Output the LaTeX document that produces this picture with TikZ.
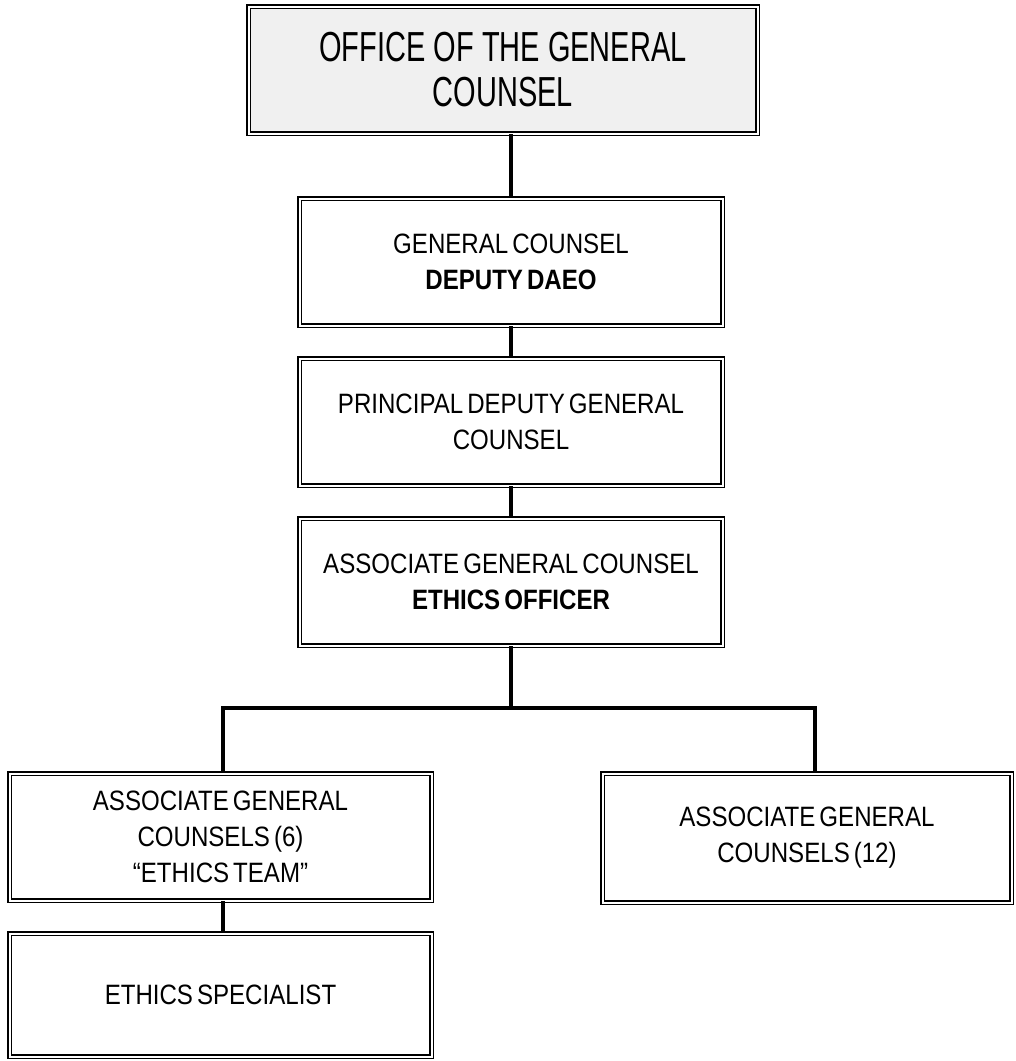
\documentclass[tikz,border=0pt]{standalone}
\usepackage{fontspec}
\setmainfont{Liberation Sans}[FakeStretch=0.86, WordSpace=0.6]
\newfontfamily\titlefont{Liberation Sans}[FakeStretch=0.69]
\definecolor{titlegray}{HTML}{F0F0F0}
\begin{document}
\begin{tikzpicture}[x=1pt,y=-1pt,
  orgbox/.style={draw=black, double=white, double distance=2pt, line width=1.5pt,
    inner sep=0pt, align=center, font=\fontsize{28}{36}\selectfont},
  link/.style={line width=3.6pt},
  branch/.style={line width=3.2pt}]
\useasboundingbox (0,0) rectangle (1016,1061);

% chain of offices
\node[orgbox, fill=titlegray, minimum width=509pt, minimum height=127pt,
      font=\titlefont\fontsize{42}{45}\selectfont] (top) at (503,70)
  {OFFICE OF THE GENERAL\\COUNSEL};
\node[orgbox, minimum width=423pt, minimum height=127pt] (gc) at (511,262)
  {GENERAL COUNSEL\\\textbf{DEPUTY DAEO}};
\node[orgbox, minimum width=423pt, minimum height=127pt] (pdgc) at (511,422)
  {PRINCIPAL DEPUTY GENERAL\\COUNSEL};
\node[orgbox, minimum width=423pt, minimum height=127pt] (agc) at (511,582)
  {ASSOCIATE GENERAL COUNSEL\\\textbf{ETHICS OFFICER}};

% lower level
\node[orgbox, minimum width=422pt, minimum height=127pt] (team) at (220.5,837)
  {ASSOCIATE GENERAL\\COUNSELS (6)\\“ETHICS TEAM”};
\node[orgbox, minimum width=409pt, minimum height=129pt] (agc12) at (807,838)
  {ASSOCIATE GENERAL\\COUNSELS (12)};
\node[orgbox, minimum width=422pt, minimum height=123pt] (spec) at (220.5,995)
  {ETHICS SPECIALIST};

% branching points
\coordinate (hub) at (511,708);
\coordinate (bl) at (223,708);
\coordinate (br) at (815,708);

% connectors
\draw[link] (gc.north |- top.south) -- (gc.north);
\draw[link] (gc.south) -- (pdgc.north);
\draw[link] (pdgc.south) -- (agc.north);
\draw[link] (agc.south) -- (hub);
\draw[branch, line join=miter] (team.north -| bl) -- (bl) -- (br) -- (agc12.north -| br);
\draw[link] (team.south -| bl) -- (spec.north -| bl);
\end{tikzpicture}
\end{document}
